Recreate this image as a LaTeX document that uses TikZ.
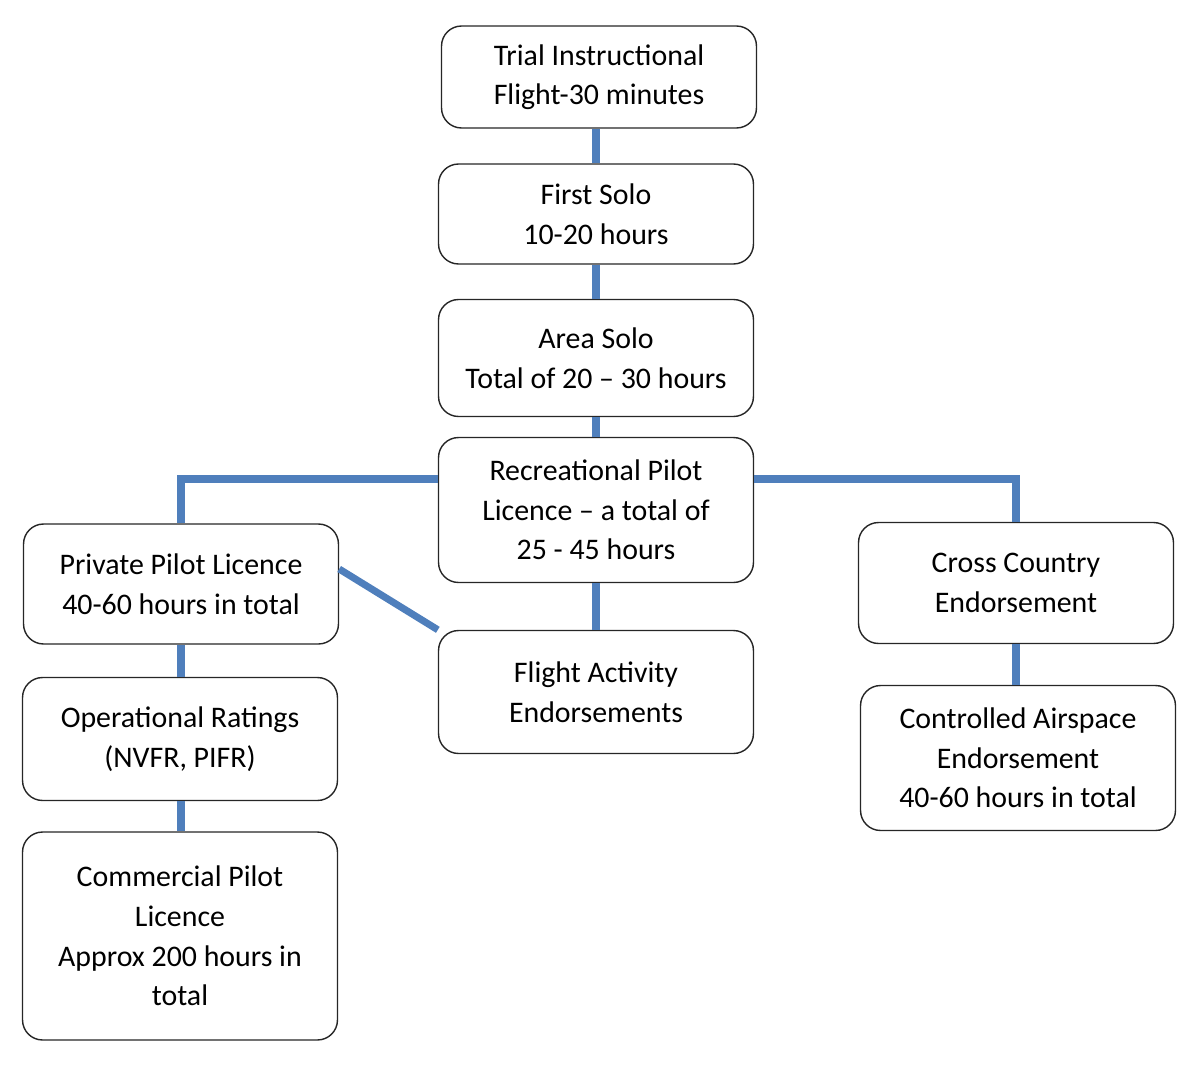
\documentclass[tikz,border=0pt]{standalone}
\usepackage{fontspec}
\setmainfont{Carlito}
\usepackage{tikz}
\definecolor{linkblue}{HTML}{4F7FBC}

\begin{document}
\begin{tikzpicture}[x=0.02cm,y=-0.02cm,line width=0.8pt,
  stage/.style={draw=black!85, rounded corners=0.4cm, fill=white, align=center,
    minimum width=6.3cm, inner sep=2pt, font=\fontsize{17}{22.5}\selectfont},
  link/.style={draw=linkblue, line width=4pt}]
  \useasboundingbox (0,0) rectangle (1200,1068);
  % boxes, centre column
  \node[stage, minimum height=2.04cm] (tif) at (599,77) {Trial Instructional\\Flight-30 minutes};
  \node[stage, minimum height=2.0cm] (fso) at (596,214) {First Solo\\10-20 hours};
  \node[stage, minimum height=2.34cm] (aso) at (596,358) {Area Solo\\Total of 20 -- 30 hours};
  \node[stage, minimum height=2.9cm] (rpl) at (596,510) {Recreational Pilot\\Licence -- a total of\\25 - 45 hours};
  \node[stage, minimum height=2.46cm] (fae) at (596,692) {Flight Activity\\Endorsements};
  % left column
  \node[stage, minimum height=2.4cm] (ppl) at (181,584) {Private Pilot Licence\\40-60 hours in total};
  \node[stage, minimum height=2.46cm] (ops) at (180,739) {Operational Ratings\\(NVFR, PIFR)};
  \node[stage, minimum height=4.16cm] (cpl) at (180,936) {Commercial Pilot\\Licence\\Approx 200 hours in\\total};
  % right column
  \node[stage, minimum height=2.42cm] (cce) at (1016,583) {Cross Country\\Endorsement};
  \node[stage, minimum height=2.9cm] (cae) at (1018,758) {Controlled Airspace\\Endorsement\\40-60 hours in total};
  % connectors
  \draw[link] (fso.north |- tif.south) -- (fso.north);
  \draw[link] (fso.south) -- (aso.north);
  \draw[link] (aso.south) -- (rpl.north);
  \draw[link] (rpl.south) -- (fae.north);
  \draw[link] (rpl.west) ++(0,-31) -| (ppl.north);
  \draw[link] (rpl.east) ++(0,-31) -| (cce.north);
  \draw[link] (ppl.east) ++(0,-15) -- (fae.north west);
  \draw[link] (ppl.south) -- (ppl.south |- ops.north);
  \draw[link] (ppl.south |- ops.south) -- (ppl.south |- cpl.north);
  \draw[link] (cce.south) -- (cce.south |- cae.north);
\end{tikzpicture}
\end{document}
